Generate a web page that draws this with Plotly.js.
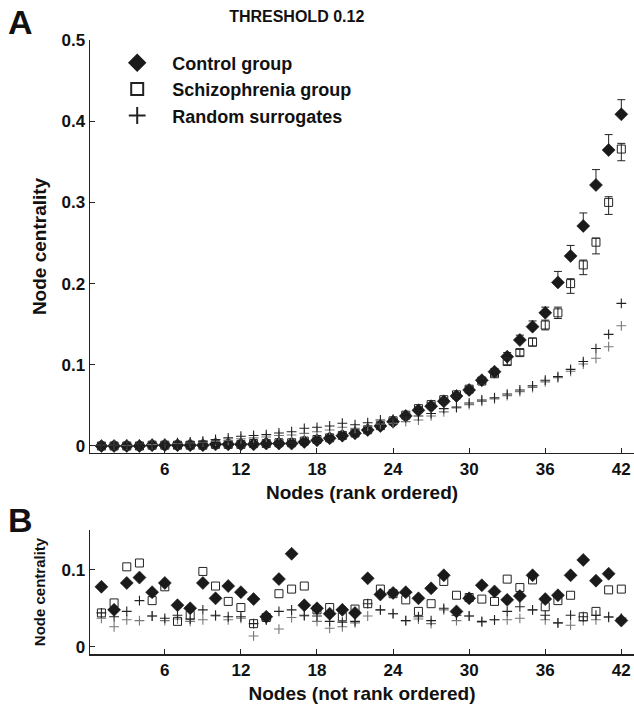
<!DOCTYPE html>
<html>
<head>
<meta charset="utf-8">
<script src="https://cdn.plot.ly/plotly-3.0.1.min.js"></script>
<style>html,body{margin:0;padding:0;background:#fff;}#chart{width:634px;height:711px;}</style>
</head>
<body>
<div id="chart"></div>
<script>
// ---- Data ----
var nodes = [1,2,3,4,5,6,7,8,9,10,11,12,13,14,15,16,17,18,19,20,21,22,23,24,25,26,27,28,29,30,31,32,33,34,35,36,37,38,39,40,41,42];
var xTicks = [6,12,18,24,30,36,42];
var yTicksTop = [0,0.1,0.2,0.3,0.4,0.5];
var yTickTextTop = ['0','0.1','0.2','0.3','0.4','0.5'];
var yTicksBottom = [0,0.1];
var yTickTextBottom = ['0','0.1'];

// Panel A: rank ordered
var controlRank = [0.000,0.000,0.000,0.000,0.001,0.001,0.001,0.001,0.001,0.002,0.002,0.002,0.002,0.003,0.003,0.003,0.005,0.007,0.0095,0.0127,0.0156,0.0197,0.0246,0.030,0.037,0.044,0.049,0.055,0.0616,0.069,0.081,0.0915,0.110,0.1305,0.147,0.164,0.2015,0.234,0.271,0.3214,0.3645,0.4085];
var controlErr = [0.001,0.001,0.001,0.001,0.001,0.001,0.001,0.001,0.001,0.001,0.001,0.001,0.001,0.001,0.001,0.001,0.001,0.002,0.002,0.002,0.002,0.002,0.002,0.002,0.002,0.002,0.003,0.003,0.003,0.003,0.003,0.004,0.005,0.006,0.007,0.007,0.0135,0.013,0.016,0.019,0.019,0.018];
var schizRank = [0.000,0.000,0.000,0.000,0.001,0.001,0.001,0.001,0.001,0.002,0.002,0.002,0.003,0.003,0.004,0.004,0.006,0.008,0.010,0.013,0.016,0.020,0.025,0.031,0.038,0.046,0.051,0.057,0.063,0.070,0.080,0.089,0.104,0.115,0.128,0.149,0.164,0.200,0.223,0.251,0.300,0.3657];
var schizErrPlus = [0.001,0.001,0.001,0.001,0.001,0.001,0.001,0.001,0.001,0.001,0.001,0.001,0.001,0.001,0.001,0.001,0.001,0.001,0.001,0.001,0.001,0.001,0.001,0.002,0.002,0.002,0.002,0.002,0.002,0.003,0.003,0.003,0.004,0.004,0.005,0.006,0.007,0.006,0.006,0.005,0.007,0.007];
var schizErrMinus = [0.001,0.001,0.001,0.001,0.001,0.001,0.001,0.001,0.001,0.001,0.001,0.001,0.001,0.001,0.001,0.001,0.001,0.001,0.001,0.001,0.001,0.001,0.001,0.002,0.002,0.002,0.002,0.002,0.002,0.003,0.003,0.003,0.004,0.004,0.005,0.006,0.007,0.012,0.012,0.0144,0.0148,0.0144];
var randomRankA = [0.001,0.001,0.002,0.002,0.003,0.003,0.004,0.005,0.006,0.008,0.010,0.012,0.013,0.014,0.016,0.0176,0.0218,0.023,0.0246,0.028,0.0262,0.0287,0.032,0.033,0.035,0.037,0.040,0.046,0.048,0.053,0.0567,0.0595,0.064,0.069,0.074,0.081,0.0854,0.0944,0.104,0.120,0.1375,0.1757];
var randomRankB = [0.001,0.001,0.001,0.002,0.002,0.003,0.003,0.004,0.005,0.006,0.007,0.009,0.010,0.011,0.013,0.0135,0.0156,0.0176,0.0197,0.023,0.0218,0.0246,0.027,0.028,0.030,0.032,0.037,0.042,0.047,0.051,0.055,0.058,0.062,0.067,0.072,0.079,0.084,0.092,0.101,0.108,0.1223,0.148];

// Panel B: not rank ordered
var controlNR = [0.078,0.048,0.083,0.090,0.071,0.083,0.054,0.050,0.083,0.063,0.079,0.071,0.062,0.039,0.088,0.121,0.054,0.050,0.043,0.048,0.044,0.089,0.068,0.070,0.071,0.063,0.076,0.093,0.046,0.063,0.080,0.072,0.061,0.066,0.093,0.062,0.067,0.093,0.113,0.086,0.095,0.034];
var schizNR = [0.044,0.057,0.104,0.109,0.060,0.078,0.033,0.041,0.098,0.079,0.059,0.051,0.030,0.038,0.069,0.075,0.079,0.048,0.051,0.039,0.049,0.056,0.075,0.069,0.061,0.046,0.056,0.085,0.067,0.064,0.062,0.059,0.088,0.077,0.087,0.052,0.060,0.067,0.039,0.046,0.074,0.075];
var randomNRA = [0.044,0.039,0.046,0.060,0.040,0.037,0.041,0.036,0.048,0.041,0.039,0.039,0.030,0.035,0.046,0.048,0.041,0.040,0.033,0.032,0.033,0.056,0.048,0.043,0.034,0.039,0.034,0.050,0.041,0.040,0.033,0.035,0.046,0.052,0.048,0.041,0.031,0.041,0.039,0.041,0.039,0.037];
var randomNRB = [0.037,0.026,0.035,0.034,0.040,0.034,0.036,0.033,0.035,0.040,0.035,0.037,0.014,0.035,0.023,0.038,0.040,0.033,0.024,0.026,0.031,0.040,0.048,0.043,0.034,0.036,0.030,0.048,0.034,0.040,0.032,0.035,0.035,0.037,0.048,0.035,0.031,0.028,0.034,0.035,0.038,0.037];

// ---- Styles ----
var FONT = 'Liberation Sans, Arial, Helvetica, sans-serif';
var nb = '\u00a0\u00a0\u00a0';
var diamond = {symbol:'diamond', size:10, color:'#1a1a1a', line:{width:0.6, color:'#1a1a1a'}};
var square = {symbol:'square-open', size:8, color:'#222', line:{width:1, color:'#222'}};
var crossA = {symbol:'cross-thin-open', size:7, color:'#222', line:{width:1.1, color:'#222'}};
var crossB = {symbol:'cross-thin-open', size:7, color:'#777', line:{width:1.1, color:'#777'}};

var traces = [
  {x:nodes, y:controlRank, type:'scatter', mode:'markers', name:nb+'Control group', marker:diamond,
   error_y:{type:'data', array:controlErr, arrayminus:nodes.map(function(){return 0;}), symmetric:false, color:'#222', thickness:1, width:4},
   xaxis:'x', yaxis:'y'},
  {x:nodes, y:schizRank, type:'scatter', mode:'markers', name:nb+'Schizophrenia group', marker:square,
   error_y:{type:'data', array:schizErrPlus, arrayminus:schizErrMinus, symmetric:false, color:'#222', thickness:1, width:4},
   xaxis:'x', yaxis:'y'},
  {x:nodes, y:randomRankB, type:'scatter', mode:'markers', name:'Random surrogates B', marker:crossB, showlegend:false, xaxis:'x', yaxis:'y'},
  {x:nodes, y:randomRankA, type:'scatter', mode:'markers', name:nb+'Random surrogates', marker:crossA, xaxis:'x', yaxis:'y'},

  {x:nodes, y:randomNRB, type:'scatter', mode:'markers', marker:crossB, showlegend:false, xaxis:'x2', yaxis:'y2'},
  {x:nodes, y:randomNRA, type:'scatter', mode:'markers', marker:crossA, showlegend:false, xaxis:'x2', yaxis:'y2'},
  {x:nodes, y:schizNR, type:'scatter', mode:'markers', marker:square, showlegend:false, xaxis:'x2', yaxis:'y2'},
  {x:nodes, y:controlNR, type:'scatter', mode:'markers', marker:diamond, showlegend:false, xaxis:'x2', yaxis:'y2'}
];

var tickFont = {family:FONT, size:17, color:'#111', weight:'bold'};
function xAx(anchor, title){
  return {domain:[0,1], anchor:anchor, range:[0.1,43], tickvals:xTicks, ticks:'inside', ticklen:5, tickwidth:1, tickcolor:'#222',
    showline:true, linecolor:'#222', linewidth:1.5, showgrid:false, zeroline:false, tickfont:tickFont,
    title:{text:title, font:{family:FONT, size:19, color:'#111', weight:'bold'}, standoff:8}};
}
var layout = {
  width:634, height:711,
  margin:{l:90, r:0, t:40, b:57},
  paper_bgcolor:'#fff', plot_bgcolor:'#fff',
  font:{family:FONT, color:'#111'},
  xaxis: xAx('y', 'Nodes (rank ordered)'),
  yaxis: {domain:[0.3274,1], anchor:'x', range:[-0.0086,0.5], tickvals:yTicksTop, ticktext:yTickTextTop,
    ticks:'inside', ticklen:5, tickwidth:1, tickcolor:'#222', showline:true, linecolor:'#222', linewidth:1.5,
    showgrid:false, zeroline:false, tickfont:tickFont,
    title:{text:'Node centrality', font:{family:FONT, size:19, color:'#111', weight:'bold'}, standoff:10}},
  xaxis2: xAx('y2', 'Nodes (not rank ordered)'),
  yaxis2: {domain:[0,0.202], anchor:'x2', range:[-0.0095,0.152], tickvals:yTicksBottom, ticktext:yTickTextBottom,
    ticks:'inside', ticklen:5, tickwidth:1, tickcolor:'#222', showline:true, linecolor:'#222', linewidth:1.5,
    showgrid:false, zeroline:false, tickfont:tickFont,
    title:{text:'Node centrality', font:{family:FONT, size:15, color:'#111', weight:'bold'}, standoff:12}},
  showlegend:true,
  legend:{x:0.05, y:0.9927, xanchor:'left', yanchor:'top', bgcolor:'rgba(0,0,0,0)',
    font:{family:FONT, size:18, color:'#111', weight:'bold'}, tracegroupgap:0, itemsizing:'constant'},
  title:{text:'THRESHOLD 0.12', x:0.468, xref:'container', xanchor:'center', y:0.977, yref:'container', yanchor:'middle',
    font:{family:FONT, size:16, color:'#111', weight:'bold'}},
  annotations:[
    {text:'A', xref:'paper', yref:'paper', x:(20-90)/544, y:1+ (40-22)/614, xanchor:'center', yanchor:'middle', showarrow:false,
     font:{family:FONT, size:34, color:'#111', weight:'bold'}},
    {text:'B', xref:'paper', yref:'paper', x:(20-90)/544, y:(654-520)/614, xanchor:'center', yanchor:'middle', showarrow:false,
     font:{family:FONT, size:34, color:'#111', weight:'bold'}}
  ]
};
Plotly.newPlot('chart', traces, layout, {displayModeBar:false, staticPlot:true});
</script>
</body>
</html>
